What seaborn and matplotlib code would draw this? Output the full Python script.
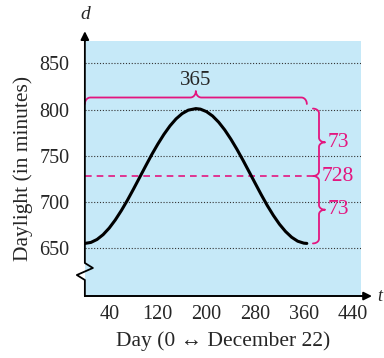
import numpy as np
import pandas as pd
import matplotlib
matplotlib.use("Agg")
import matplotlib.pyplot as plt
import seaborn as sns

# =========================
# DATA
# =========================
day = [0, 10, 20, 30, 40, 50, 60, 70, 80, 90, 100, 110, 120, 130, 140, 150, 160, 170, 182.5,
       190, 200, 210, 220, 230, 240, 250, 260, 270, 280, 290, 300, 310, 320, 330, 340, 350, 360, 365]
daylight = [655.0, 656.1, 659.3, 664.5, 671.6, 680.4, 690.6, 701.8, 713.9, 726.4, 738.9, 751.2,
            762.6, 773.1, 782.3, 789.9, 795.6, 799.3, 801.0,
            800.4, 797.7, 793.0, 786.3, 777.9, 768.0, 757.0, 745.1, 732.7, 720.2, 707.8,
            696.0, 685.3, 675.8, 667.9, 661.7, 657.4, 655.3, 655.0]

y_ticks = [650, 700, 750, 800, 850]
x_ticks = [40, 80, 120, 160, 200, 240, 280, 320, 360, 400, 440]
x_labels = ["40", "", "120", "", "200", "", "280", "", "360", "", "440"]

period = 365
mean_val = 728
amp = 73

df = pd.DataFrame({"day": day, "daylight": daylight})

# =========================
# STYLE
# =========================
BLUE = "#c6e9f8"
PINK = "#e3167f"

sns.set_style("white", {"axes.facecolor": BLUE})
plt.rcParams["font.family"] = ["Liberation Serif", "DejaVu Serif"]

fig = plt.figure(figsize=(3.84, 3.58), dpi=100)
ax = fig.add_axes([0.221, 0.173, 0.719, 0.712])

sns.lineplot(data=df, x="day", y="daylight", ax=ax, color="black", lw=2.2, zorder=4)

ax.set_xlim(0, 454)
ax.set_ylim(598, 874)

# grid lines
for yv in y_ticks:
    ax.axhline(yv, color="#333333", lw=0.8, ls=(0, (1, 1.6)), zorder=1)

ax.set_yticks(y_ticks)
ax.set_xticks(x_ticks)
ax.set_xticklabels(x_labels)
ax.tick_params(axis="y", direction="out", length=8, width=1.2, labelsize=14.5, pad=3, color="black")
ax.tick_params(axis="x", direction="inout", length=11, width=1.0, labelsize=14.5, pad=1, color="black")

ax.set_xlabel("Day (0 \u2194 December 22)", fontsize=15.5, labelpad=5)
ax.set_ylabel("Daylight (in minutes)", fontsize=15.5, labelpad=5)

for s in ["top", "right", "left"]:
    ax.spines[s].set_visible(False)
ax.spines["bottom"].set_color("black")
ax.spines["bottom"].set_linewidth(1.4)

# left axis with break zigzag (axes x, data y)
tr = ax.get_yaxis_transform()
zx = [0, 0, -0.029, 0.029, 0.0, 0.0]
zy = [598, 615.4, 620.8, 628.4, 633.8, 874]
ax.plot(zx, zy, color="black", lw=1.3, transform=tr, clip_on=False, zorder=5)

# arrows
ax.annotate("", xy=(0, 1.05), xytext=(0, 0.99), xycoords="axes fraction",
            arrowprops=dict(arrowstyle="-|>", color="black", lw=1.4, mutation_scale=12))
ax.annotate("", xy=(1.05, 0), xytext=(0.99, 0), xycoords="axes fraction",
            arrowprops=dict(arrowstyle="-|>", color="black", lw=1.4, mutation_scale=12))
ax.text(0, 1.07, "d", transform=ax.transAxes, ha="center", va="bottom",
        fontsize=14, style="italic")
ax.text(1.06, 0.0, "t", transform=ax.transAxes, ha="left", va="center",
        fontsize=13, style="italic")


# =========================
# BRACES
# =========================
def quarter(cx, cy, rx, ry, a0, a1, n=12):
    th = np.radians(np.linspace(a0, a1, n))
    return cx + rx * np.cos(th), cy + ry * np.sin(th)


def brace_h(x0, x1, y, rx, ry):
    xm = (x0 + x1) / 2
    xs, ys = [], []
    for px, py in [quarter(x0 + rx, y - ry, rx, ry, 180, 90),
                   quarter(xm - rx, y + ry, rx, ry, -90, 0),
                   quarter(xm + rx, y + ry, rx, ry, 180, 270),
                   quarter(x1 - rx, y - ry, rx, ry, 90, 0)]:
        xs.extend(px)
        ys.extend(py)
    return xs, ys


def brace_v(y0, y1, x, rx, ry):
    # vertical brace, tip pointing right, ends curl left
    ym = (y0 + y1) / 2
    xs, ys = [], []
    for px, py in [quarter(x - rx, y1 - ry, rx, ry, 90, 0),
                   quarter(x + rx, ym + ry, rx, ry, 180, 270),
                   quarter(x + rx, ym - ry, rx, ry, 90, 180),
                   quarter(x - rx, y0 + ry, rx, ry, 0, -90)]:
        xs.extend(px)
        ys.extend(py)
    return xs, ys


bx, by = brace_h(0, period, mean_val + amp + 12, 9, 7)
ax.plot(bx, by, color=PINK, lw=1.3, zorder=3, clip_on=False)
ax.text(period / 2, mean_val + amp + 20, str(period), ha="center", va="bottom", fontsize=15)

vx = period + 20
bx, by = brace_v(mean_val, mean_val + amp, vx, 10, 5)
ax.plot(bx, by, color=PINK, lw=1.3, zorder=3)
bx, by = brace_v(mean_val - amp, mean_val, vx, 10, 5)
ax.plot(bx, by, color=PINK, lw=1.3, zorder=3)

ax.text(vx + 15, mean_val + amp / 2, str(amp), color=PINK, ha="left", va="center", fontsize=15.5)
ax.text(vx + 15, mean_val - amp / 2, str(amp), color=PINK, ha="left", va="center", fontsize=15.5)
ax.text(vx + 5, mean_val, str(mean_val), color=PINK, ha="left", va="center", fontsize=15.5)

ax.plot([0, vx - 12], [mean_val, mean_val], color=PINK, lw=1.2, ls=(0, (4, 3)), zorder=3)

fig.savefig("out.png", dpi=100)
